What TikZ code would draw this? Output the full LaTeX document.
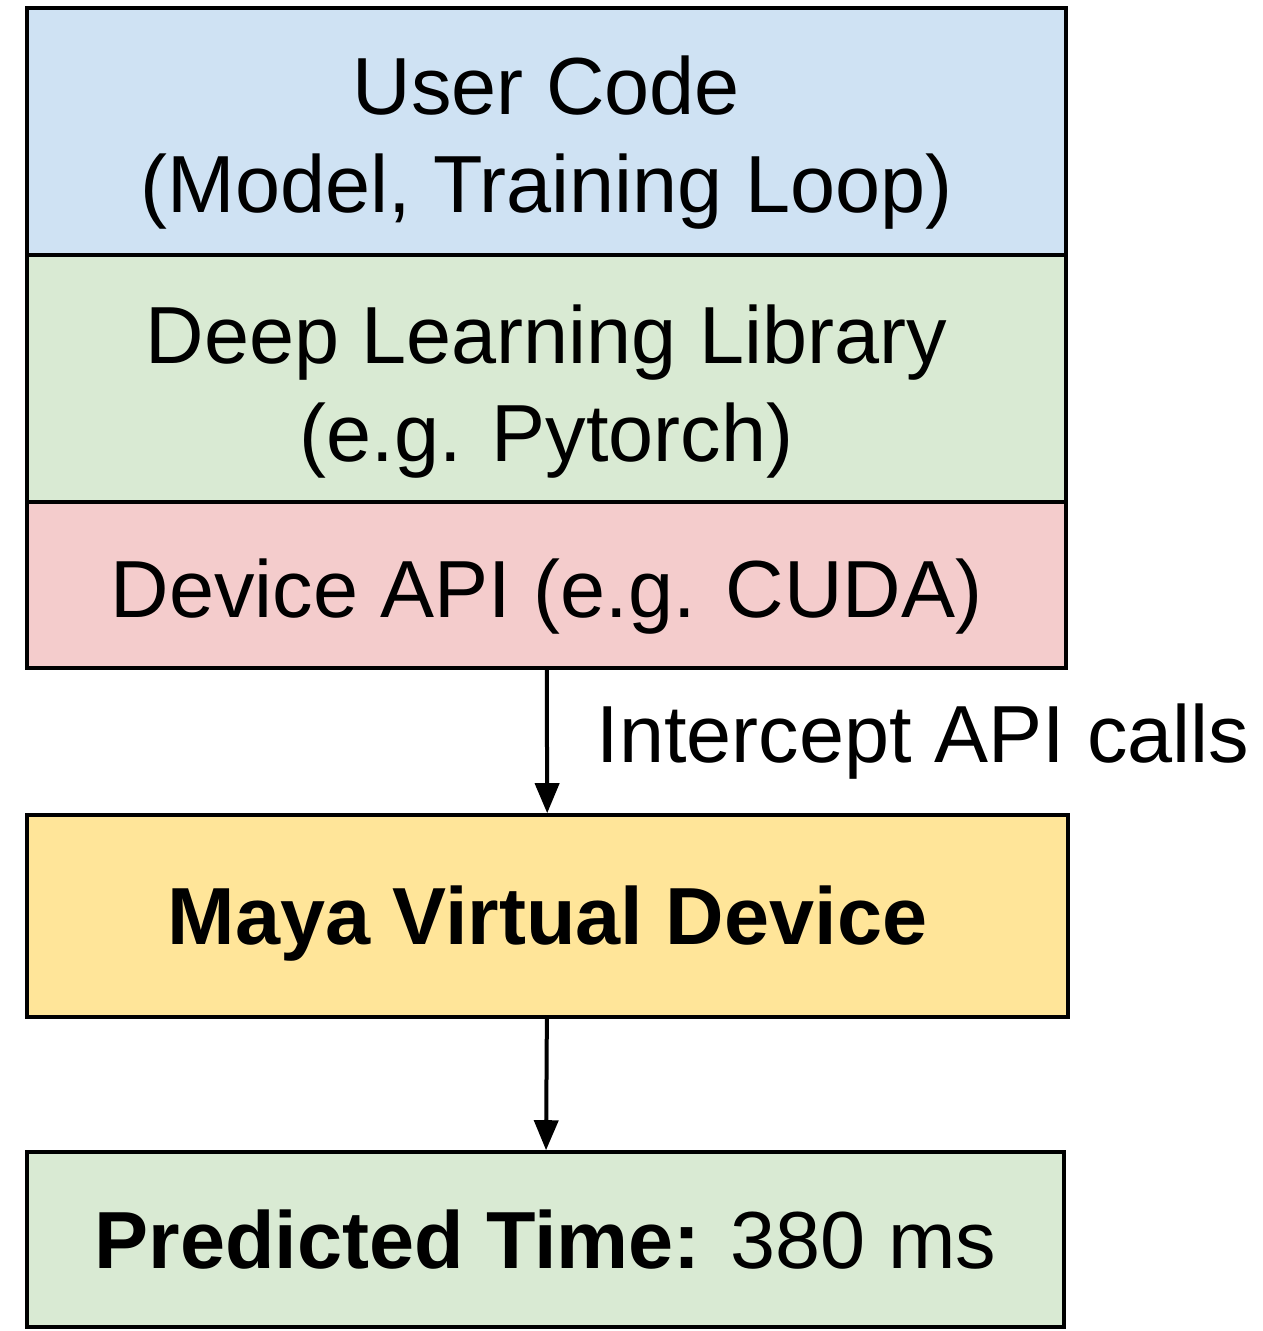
\documentclass[tikz,border=0pt]{standalone}
\usepackage{fontspec}
\setmainfont{Liberation Sans}
\usepackage{tikz}
\usetikzlibrary{arrows.meta,positioning}

\definecolor{userblue}{HTML}{CFE2F3}
\definecolor{libgreen}{HTML}{D9EAD3}
\definecolor{apired}{HTML}{F4CCCC}
\definecolor{mayayellow}{HTML}{FFE599}

\newcommand{\droptext}[1]{\rule{0pt}{#1}}

\tikzset{
  layerbox/.style={draw, line width=1.8pt, inner sep=0pt, align=center,
    font=\fontsize{40.5}{49}\selectfont},
  flowarrow/.style={-{Triangle[length=15pt,width=12pt]}, line width=2pt}
}

\begin{document}
\begin{tikzpicture}[x=0.5pt, y=-0.5pt]
    \useasboundingbox (0, 0) rectangle (1262, 1331);

    \node [layerbox, fill=userblue, minimum width=519.5pt, minimum height=123.5pt] (user) at (546.5, 131.5) {\droptext{40pt}User Code\\(Model, Training Loop)};
    \node [layerbox, fill=libgreen, minimum width=519.5pt, minimum height=123.5pt] (lib) at (546.5, 378.5) {\droptext{42pt}Deep Learning Library\\(e.g. Pytorch)};
    \node [layerbox, fill=apired, minimum width=519.5pt, minimum height=83pt] (api) at (546.5, 585) {\droptext{41pt}Device API (e.g. CUDA)};

    \node [layerbox, fill=mayayellow, minimum width=520.5pt, minimum height=101pt] (maya) at (547.5, 916) {\droptext{37pt}\bfseries Maya Virtual Device};
    \node [layerbox, fill=libgreen, minimum width=518.5pt, minimum height=87.5pt] (pred) at (545.5, 1239.5) {\bfseries Predicted Time: \mdseries 380 ms};

    \draw [flowarrow] (api) -- (maya) node [midway, right=20.5pt, font=\fontsize{40.5}{49}\selectfont] (intercept) {Intercept API calls};
    \draw [flowarrow] (maya) -- (pred);
  \end{tikzpicture}
\end{document}
